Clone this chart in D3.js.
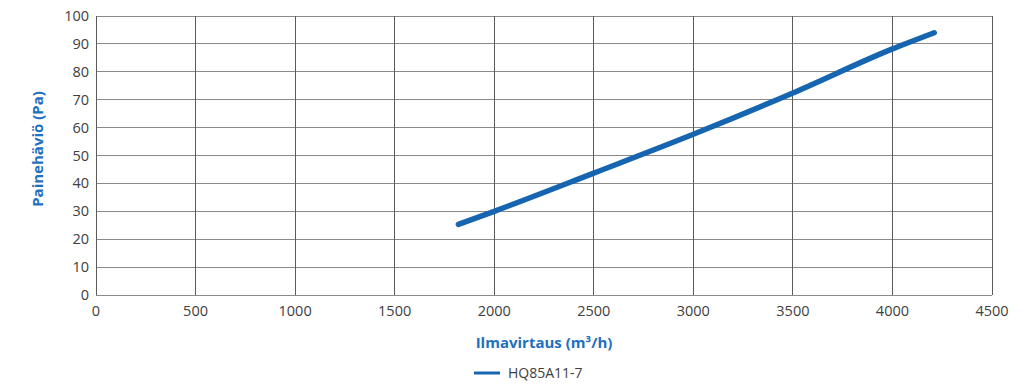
<!DOCTYPE html>
<html><head><meta charset="utf-8">
<script src="https://cdn.jsdelivr.net/npm/d3@7"></script>
<style>body{margin:0;background:#fff}svg{display:block}</style>
</head><body>
<svg id="c" width="1024" height="387"></svg>
<script>
const flowValues = [1820, 2000, 2500, 3000, 3500, 4000, 4210];
const pressureValues = [25.3, 30.0, 43.7, 57.6, 72.4, 88.2, 94.0];
const xTicks = [0,500,1000,1500,2000,2500,3000,3500,4000,4500];
const yTicks = [0,10,20,30,40,50,60,70,80,90,100];
const seriesName = "HQ85A11-7";
const xTitle = "Ilmavirtaus (m³/h)";
const yTitle = "Painehäviö (Pa)";

const svg = d3.select("#c");
const L=96,R=992,T=16,B=295;
const x = d3.scaleLinear().domain([0,4500]).range([L,R]);
const y = d3.scaleLinear().domain([0,100]).range([B,T]);
const font = "'Open Sans', 'Liberation Sans', sans-serif";

svg.append("g").selectAll("line").data(yTicks).join("line")
 .attr("x1",L).attr("x2",R).attr("y1",d=>y(d)).attr("y2",d=>y(d))
 .attr("stroke","#8a8a8a").attr("stroke-width",1).attr("shape-rendering","crispEdges");
svg.append("g").selectAll("line").data(xTicks).join("line")
 .attr("y1",T).attr("y2",B).attr("x1",d=>x(d)).attr("x2",d=>x(d))
 .attr("stroke","#5a5a5a").attr("stroke-width",1).attr("shape-rendering","crispEdges");

svg.append("g").selectAll("text").data(yTicks).join("text")
 .attr("x",L-7).attr("y",d=>y(d)).attr("dy","0.35em").attr("text-anchor","end")
 .attr("font-family",font).attr("font-size",14.5).attr("fill","#404040").text(d=>d);
svg.append("g").selectAll("text").data(xTicks).join("text")
 .attr("x",d=>x(d)).attr("y",B+21).attr("text-anchor","middle")
 .attr("font-family",font).attr("font-size",14.5).attr("fill","#404040").text(d=>d);

const line = d3.line().x((d,i)=>x(flowValues[i])).y(d=>y(d)).curve(d3.curveMonotoneX);
svg.append("path").datum(pressureValues).attr("d",line).attr("fill","none")
 .attr("stroke","#1565b0").attr("stroke-width",5.5).attr("stroke-linecap","round");

svg.append("text").attr("x",(L+R)/2).attr("y",348).attr("text-anchor","middle")
 .attr("font-family",font).attr("font-size",15).attr("font-weight","bold").attr("fill","#1f6fbf").text(xTitle);
svg.append("text").attr("transform",`translate(43,149) rotate(-90)`).attr("text-anchor","middle")
 .attr("font-family",font).attr("font-size",15).attr("font-weight","bold").attr("fill","#1f6fbf").text(yTitle);

svg.append("line").attr("x1",474).attr("x2",500).attr("y1",373).attr("y2",373)
 .attr("stroke","#1565b0").attr("stroke-width",3);
svg.append("text").attr("x",508).attr("y",373).attr("dy","0.35em")
 .attr("font-family",font).attr("font-size",14).attr("fill","#404040").text(seriesName);
</script>
</body></html>
